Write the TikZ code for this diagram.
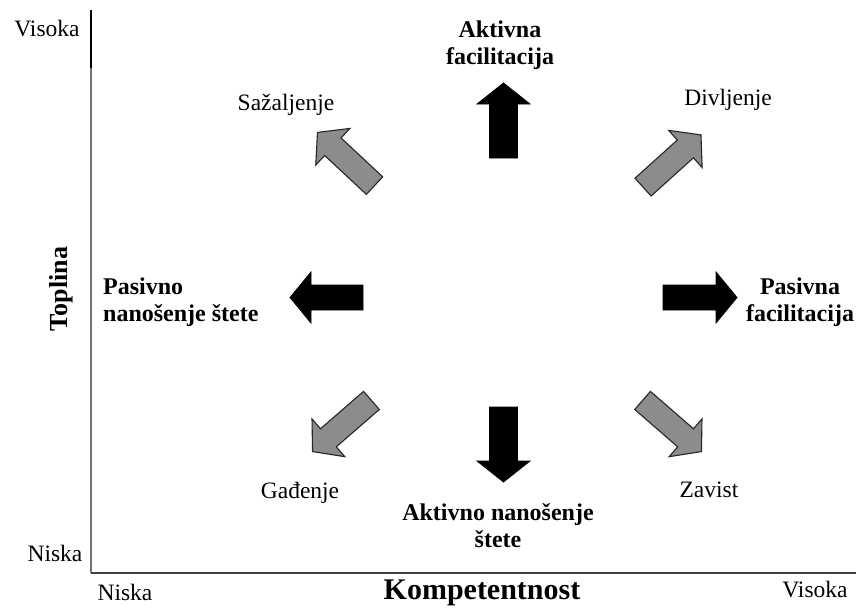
\documentclass[tikz,border=0pt]{standalone}
\usepackage{fontspec}
\setmainfont{Liberation Serif}
\newcommand\BlockArr[6]{% #1 style, #2 centre, #3 angle, #4 shaft half, #5 head half, #6 half length
  \begin{scope}[shift={(#2)}, rotate=#3]
    \draw[#1] (-#6,-#4) -- (#6-21,-#4) -- (#6-21,-#5) -- (#6,0) -- (#6-21,#5) -- (#6-21,#4) -- (-#6,#4) -- cycle;
  \end{scope}}
\begin{document}
\begin{tikzpicture}[x=1pt,y=-1pt,
  lbl/.style={font=\fontsize{23.5}{27}\selectfont, inner sep=0pt},
  blbl/.style={font=\fontsize{24}{27.5}\selectfont\bfseries, inner sep=0pt},
  axlbl/.style={font=\fontsize{30}{34}\selectfont\bfseries, inner sep=0pt},
  blackarr/.style={fill=black, draw=black, line width=0.8pt, line join=miter},
  grayarr/.style={fill=black!45, draw=black!85, line width=1.1pt, line join=miter}]
\useasboundingbox (0,0) rectangle (856,610);
\fill[white] (0,0) rectangle (856,610);
% axes
\coordinate (O) at (91,573);
\coordinate (Ytop) at (91,10);
\coordinate (Ymark) at (91,68);
\coordinate (Xend) at (856,573);
\draw[black!55, line width=1.6pt] (O) -- (Ytop);
\draw[black, line width=2.6pt] (Ymark) -- (Ytop);
\draw[black!75, line width=2pt] (O) -- (Xend);
% axis labels
\node[lbl] (ytophi) at (47,29) {Visoka};
\node[lbl] (ylo) at (55,553) {Niska};
\node[lbl] (xlo) at (125,592) {Niska};
\node[lbl] (xhi) at (815,590) {Visoka};
\node[axlbl] (xname) at (482,593) {Kompetentnost};
\node[font=\fontsize{26}{30}\selectfont\bfseries, inner sep=0pt, rotate=90] (yname) at (61,289) {Toplina};
% arrow centres
\coordinate (aUp) at (503.5,120.5);
\coordinate (aDown) at (503.5,444.5);
\coordinate (aLeft) at (326.5,297.5);
\coordinate (aRight) at (700,297.5);
\coordinate (aNW) at (346,159);
\coordinate (aNE) at (672,161);
\coordinate (aSW) at (342,426);
\coordinate (aSE) at (672,426);
% black arrows
\BlockArr{blackarr}{aUp}{90}{14}{26.5}{37.5}
\BlockArr{blackarr}{aDown}{270}{14}{26.5}{37.5}
\BlockArr{blackarr}{aLeft}{180}{12.5}{25.5}{36.5}
\BlockArr{blackarr}{aRight}{0}{12.5}{25.5}{37}
% gray arrows
\BlockArr{grayarr}{aNW}{137}{12}{25}{39}
\BlockArr{grayarr}{aNE}{42}{12}{25}{39}
\BlockArr{grayarr}{aSW}{221}{12}{25}{39}
\BlockArr{grayarr}{aSE}{319}{12}{25}{39}
% labels
\node[blbl, align=center] (actfac) at (500,45) {Aktivna\\facilitacija};
\node[blbl, align=center] (actharm) at (498,525.5) {Aktivno nanošenje\\štete};
\node[blbl, align=left, anchor=west] (passharm) at (103,302) {Pasivno\\nanošenje štete};
\node[blbl, align=center] (passfac) at (800,302) {Pasivna\\facilitacija};
\node[lbl] (pity) at (286,105) {Sažaljenje};
\node[lbl] (admir) at (728,100) {Divljenje};
\node[lbl] (disg) at (300,493) {Gađenje};
\node[lbl] (envy) at (709,490) {Zavist};
\end{tikzpicture}
\end{document}
